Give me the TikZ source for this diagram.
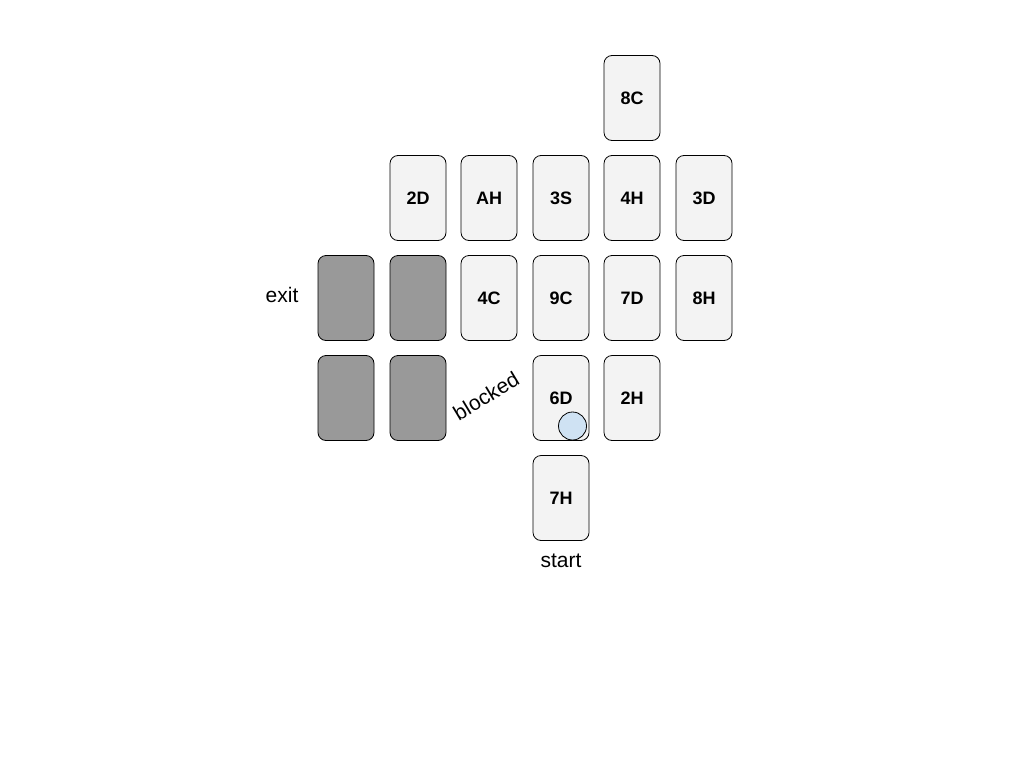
\documentclass[tikz,border=0pt]{standalone}
\usepackage{fontspec}
\setmainfont{Liberation Sans}
\definecolor{cardfill}{HTML}{F3F3F3}
\definecolor{blockfill}{HTML}{999999}
\definecolor{tokenfill}{HTML}{CFE2F3}
\begin{document}
\begin{tikzpicture}[x=1pt,y=-1pt,
  card/.style={draw=black, line width=0.8pt, fill=cardfill, rounded corners=8pt,
    minimum width=56pt, minimum height=85pt, inner sep=0pt,
    font=\fontsize{18}{21}\selectfont\bfseries},
  blockcard/.style={card, fill=blockfill},
  lbl/.style={font=\fontsize{21}{25}\selectfont, inner sep=0pt},
  token/.style={draw=black, line width=0.8pt, fill=tokenfill, circle, minimum size=28pt, inner sep=0pt}]
\useasboundingbox (0,0) rectangle (1024,768);
% row 0
\node[card] (c8C) at (632,98) {8C};
% row 1
\node[card] (c2D) at (418,198) {2D};
\node[card] (cAH) at (489,198) {AH};
\node[card] (c3S) at (561,198) {3S};
\node[card] (c4H) at (632,198) {4H};
\node[card] (c3D) at (704,198) {3D};
% row 2
\node[blockcard] (b1) at (346,298) {};
\node[blockcard] (b2) at (418,298) {};
\node[card] (c4C) at (489,298) {4C};
\node[card] (c9C) at (561,298) {9C};
\node[card] (c7D) at (632,298) {7D};
\node[card] (c8H) at (704,298) {8H};
% row 3
\node[blockcard] (b3) at (346,398) {};
\node[blockcard] (b4) at (418,398) {};
\node[card] (c6D) at (561,398) {6D};
\node[card] (c2H) at (632,398) {2H};
% row 4
\node[card] (c7H) at (561,498) {7H};
% token
\node[token] (tok) at (572.5,426) {};
% labels
\node[lbl] (exit) at (282,295) {exit};
\node[lbl] (start) at (561,561) {start};
\node[lbl, rotate=31] (blocked) at (486,396) {blocked};
\end{tikzpicture}
\end{document}
